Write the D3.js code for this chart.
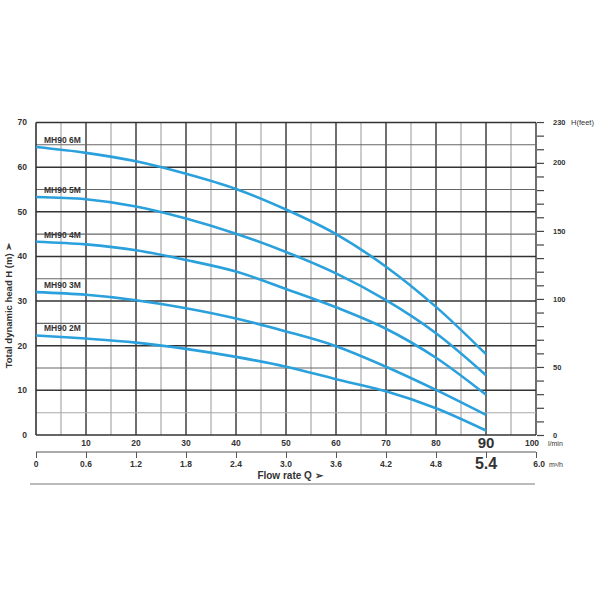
<!DOCTYPE html>
<html>
<head>
<meta charset="utf-8">
<script src="https://cdn.jsdelivr.net/npm/d3@7"></script>
<style>
  body { margin: 0; background: #fff; }
  text { font-family: "Liberation Sans", Arial, sans-serif; fill: #333; }
</style>
</head>
<body>
<div id="chart"></div>
<script>
//setup
var width = 600,
    height = 600;

// data
var flow = [0, 10, 20, 30, 40, 50, 60, 70, 80, 90];          // l/min
var models = ["MH90 2M", "MH90 3M", "MH90 4M", "MH90 5M", "MH90 6M"];
var head2M = [22.3, 21.6, 20.7, 19.3, 17.5, 15.3, 12.5, 9.8, 6.0, 1.0];
var head3M = [32.0, 31.4, 30.2, 28.4, 26.1, 23.2, 19.9, 15.3, 10.1, 4.5];
var head4M = [43.3, 42.7, 41.4, 39.2, 36.6, 32.7, 28.6, 23.8, 17.3, 9.0];
var head5M = [53.3, 52.8, 51.2, 48.5, 45.1, 41.0, 36.2, 30.2, 22.8, 13.4];
var head6M = [64.5, 63.2, 61.3, 58.5, 55.1, 50.5, 45.0, 37.7, 28.7, 18.1];
var heads = [head2M, head3M, head4M, head5M, head6M];

var headTicks = [0, 10, 20, 30, 40, 50, 60, 70];
var flowTicks = [10, 20, 30, 40, 50, 60, 70, 80, 90, 100];
var m3hTicks = ["0", "0.6", "1.2", "1.8", "2.4", "3.0", "3.6", "4.2", "4.8", "5.4", "6.0"];
var feetTicks = [0, 50, 100, 150, 200, 230];

var xScale = d3.scaleLinear().domain([0, 100]).range([36, 536]);
var yScale = d3.scaleLinear().domain([0, 70]).range([435, 122.5]);
var ftScale = d3.scaleLinear().domain([0, 230])
    .range([yScale(0), yScale(230 * 0.3048)]);

var svg = d3.select("#chart").append("svg")
    .attr("width", width)
    .attr("height", height);
// end of setup

//grid
var g = svg.append("g");
g.selectAll(".vgrid").data(d3.range(5, 101, 5))
    .enter().append("line")
    .attr("x1", d => xScale(d)).attr("x2", d => xScale(d))
    .attr("y1", yScale(0)).attr("y2", yScale(70))
    .style("stroke", d => d % 10 === 0 ? "#333" : "#999")
    .style("stroke-width", d => d % 10 === 0 ? 1.4 : 1);

g.selectAll(".hgrid").data(d3.range(5, 71, 5))
    .enter().append("line")
    .attr("x1", xScale(0)).attr("x2", xScale(100))
    .attr("y1", d => yScale(d)).attr("y2", d => yScale(d))
    .style("stroke", d => d % 10 === 0 ? "#333" : (d === 5 ? "#aaa" : "#666"))
    .style("stroke-width", d => d % 10 === 0 ? 1.5 : 1.1);

// frame left + bottom
g.append("line")
    .attr("x1", xScale(0)).attr("x2", xScale(0))
    .attr("y1", yScale(0)).attr("y2", yScale(70))
    .style("stroke", "#333").style("stroke-width", 1.6);
g.append("line")
    .attr("x1", xScale(0)).attr("x2", xScale(100))
    .attr("y1", yScale(0)).attr("y2", yScale(0))
    .style("stroke", "#333").style("stroke-width", 1.6);
//end of grid

//curves
var line = d3.line()
    .x((d, i) => xScale(flow[i]))
    .y(d => yScale(d))
    .curve(d3.curveCatmullRom.alpha(0.5));

svg.selectAll(".curve").data(heads)
    .enter().append("path")
    .attr("d", line)
    .style("fill", "none")
    .style("stroke", "#2aa0dc")
    .style("stroke-width", 2.6);

svg.selectAll(".model").data(models)
    .enter().append("text")
    .attr("x", xScale(0) + 8)
    .attr("y", (d, i) => yScale(heads[i][0]) - 4)
    .style("font-size", "8.5px")
    .style("font-weight", "bold")
    .text(d => d);
//end of curves

//left axis
svg.selectAll(".ylab").data(headTicks)
    .enter().append("text")
    .attr("x", 27)
    .attr("y", d => yScale(d))
    .attr("dy", "0.35em")
    .attr("text-anchor", "end")
    .style("font-size", "8.5px")
    .style("font-weight", "bold")
    .text(d => d);

svg.append("text")
    .attr("transform", "translate(12," + yScale(29) + ") rotate(-90)")
    .attr("text-anchor", "middle")
    .style("font-size", "9.5px")
    .style("font-weight", "bold")
    .text("Total dynamic head H (m) \u27A2");

//right axis (feet)
var ftAxis = d3.axisRight(ftScale)
    .tickValues(d3.range(0, 231, 10))
    .tickSize(7)
    .tickFormat("");
svg.append("g")
    .attr("transform", "translate(537,0)")
    .call(ftAxis)
    .call(a => a.select(".domain").remove())
    .selectAll("line")
    .style("stroke", "#444")
    .style("stroke-width", 1.2);

svg.selectAll(".ftlab").data(feetTicks)
    .enter().append("text")
    .attr("x", 553)
    .attr("y", d => ftScale(d))
    .attr("dy", "0.35em")
    .style("font-size", "7.5px")
    .style("font-weight", "bold")
    .text(d => d);
svg.append("text")
    .attr("x", 571).attr("y", ftScale(230)).attr("dy", "0.35em")
    .style("font-size", "7.5px")
    .text("H(feet)");

//bottom axes
svg.selectAll(".flab").data(flowTicks)
    .enter().append("text")
    .attr("x", d => xScale(d) - (d === 100 ? 4 : 0))
    .attr("y", d => d === 90 ? 448 : 446)
    .attr("text-anchor", "middle")
    .style("font-size", d => d === 90 ? "15px" : "8.5px")
    .style("font-weight", "bold")
    .text(d => d);
svg.append("text")
    .attr("x", 548).attr("y", 446)
    .style("font-size", "7px")
    .text("l/min");

var m3Axis = d3.axisBottom(xScale)
    .tickValues(d3.range(0, 101, 10))
    .tickSize(6)
    .tickFormat("");
svg.append("g")
    .attr("transform", "translate(0,452)")
    .call(m3Axis)
    .call(a => a.select(".domain").attr("d", "M" + xScale(0) + ",0H" + xScale(100)).style("stroke", "#555"))
    .selectAll("line")
    .style("stroke", "#555");

svg.selectAll(".mlab").data(m3hTicks)
    .enter().append("text")
    .attr("x", (d, i) => xScale(i * 10))
    .attr("y", (d, i) => i === 9 ? 469 : 467)
    .attr("text-anchor", (d, i) => i === 10 ? "end" : "middle")
    .attr("dx", (d, i) => i === 10 ? 9 : 0)
    .style("font-size", (d, i) => i === 9 ? "16px" : "8.5px")
    .style("font-weight", "bold")
    .text(d => d);
svg.append("text")
    .attr("x", 549).attr("y", 467)
    .style("font-size", "7px")
    .text("m\u00B3/h");

svg.append("text")
    .attr("x", 290).attr("y", 479)
    .attr("text-anchor", "middle")
    .style("font-size", "10px")
    .style("font-weight", "bold")
    .text("Flow rate Q \u27A2");

svg.append("line")
    .attr("x1", 30).attr("x2", 535)
    .attr("y1", 484).attr("y2", 484)
    .style("stroke", "#bbb")
    .style("stroke-width", 2);
//end of axes
</script>
</body>
</html>
